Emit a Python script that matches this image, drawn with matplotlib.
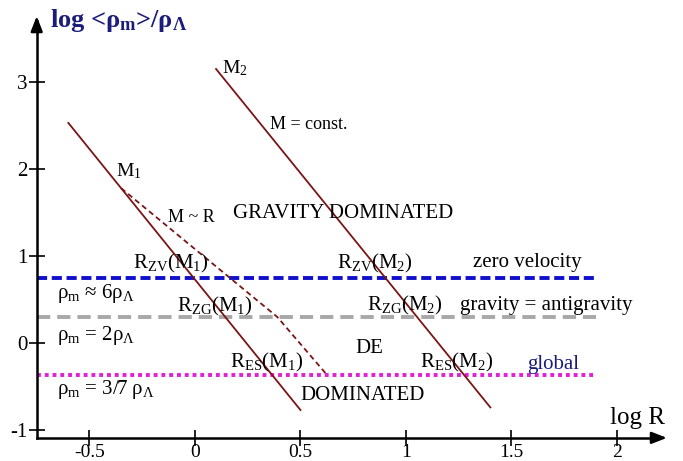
import matplotlib
matplotlib.use("Agg")
import matplotlib.pyplot as plt

plt.rcParams["font.family"] = ["Liberation Serif", "DejaVu Serif"]
plt.rcParams["mathtext.fontset"] = "custom"
plt.rcParams["mathtext.rm"] = "Liberation Serif"
plt.rcParams["mathtext.it"] = "Liberation Serif:italic"
plt.rcParams["mathtext.bf"] = "Liberation Serif:bold"

# mass lines (log R, log <rho_m>/rho_L)
m1_x = [-0.60, 0.50]
m1_y = [2.53, -0.77]
m2_x = [0.10, 1.40]
m2_y = [3.15, -0.74]
# M ~ R track
mr_x = [-0.35, 0.39, 0.62]
mr_y = [1.78, 0.30, -0.35]

# density levels
level_x = [-0.75, 1.90]
zero_velocity = 0.75
zero_gravity = 0.30
global_level = -0.37

x_ticks = [-0.5, 0, 0.5, 1, 1.5, 2]
x_tick_labels = ["-0.5", "0", "0.5", "1", "1.5", "2"]
y_ticks = [-1, 0, 1, 2, 3]
y_tick_labels = ["-1", "0", "1", "2", "3"]

DARK_RED = "#7a1515"
NAVY = "#1c1c7a"

fig = plt.figure(figsize=(6.83, 4.61), dpi=100)
ax = fig.add_axes([0, 0, 1, 1])
ax.set_xlim(-0.924, 2.313)
ax.set_ylim(-1.356, 3.943)

x0, y0 = -0.75, -1.09
ax.spines["left"].set_position(("data", x0))
ax.spines["bottom"].set_position(("data", y0))
ax.spines["left"].set_bounds(y0, 3.7)
ax.spines["bottom"].set_bounds(x0, 2.2)
ax.spines["left"].set_linewidth(1.8)
ax.spines["bottom"].set_linewidth(1.8)
ax.spines["top"].set_visible(False)
ax.spines["right"].set_visible(False)

ax.set_xticks(x_ticks)
ax.set_xticklabels(x_tick_labels)
ax.set_yticks(y_ticks)
ax.set_yticklabels(y_tick_labels)
ax.tick_params(direction="inout", length=11, width=1.2, labelsize=15, pad=1)
ax.tick_params(axis="x", labelsize=14, pad=-1)

# arrow heads
ax.annotate("", xy=(2.25, y0), xytext=(2.15, y0),
            arrowprops=dict(arrowstyle="-|>,head_length=0.9,head_width=0.35",
                            color="black", lw=1.8))
ax.annotate("", xy=(x0, 3.79), xytext=(x0, 3.6),
            arrowprops=dict(arrowstyle="-|>,head_length=0.9,head_width=0.35",
                            color="black", lw=1.8))

# level lines
ax.plot(level_x, [zero_velocity] * 2, color="#1010cc", lw=2.8,
        dashes=(2.6, 1.2))
ax.plot(level_x, [zero_gravity] * 2, color="#a8a8a8", lw=2.8,
        dashes=(3.4, 1.8))
ax.plot(level_x, [global_level] * 2, color="#e020d8", lw=2.8,
        dashes=(1, 1))

# mass lines
ax.plot(m1_x, m1_y, color=DARK_RED, lw=1.3)
ax.plot(m2_x, m2_y, color=DARK_RED, lw=1.3)
ax.plot(mr_x, mr_y, color=DARK_RED, lw=1.3, dashes=(3, 2))

labels = [
    ("M$_2$", 0.128, 3.16, 14),
    ("M = const.", 0.355, 2.51, 13),
    ("M$_1$", -0.374, 1.97, 14),
    ("M ~ R", -0.128, 1.44, 13),
    ("GRAVITY DOMINATED", 0.18, 1.49, 15),
    ("R$_{\\mathrm{ZV}}$(M$_1$)", -0.294, 0.92, 15),
    ("R$_{\\mathrm{ZV}}$(M$_2$)", 0.673, 0.92, 15),
    ("zero velocity", 1.318, 0.93, 15),
    ("ρ$_{\\mathrm{m}}$ ≈ 6ρ$_{\\Lambda}$", -0.654, 0.575, 15),
    ("R$_{\\mathrm{ZG}}$(M$_1$)", -0.085, 0.425, 15),
    ("R$_{\\mathrm{ZG}}$(M$_2$)", 0.815, 0.437, 15),
    ("gravity = antigravity", 1.256, 0.437, 15),
    ("ρ$_{\\mathrm{m}}$ = 2ρ$_{\\Lambda}$", -0.654, 0.09, 15),
    ("DE", 0.758, -0.06, 15),
    ("R$_{\\mathrm{ES}}$(M$_1$)", 0.166, -0.22, 15),
    ("R$_{\\mathrm{ES}}$(M$_2$)", 1.066, -0.22, 15),
    ("ρ$_{\\mathrm{m}}$ = 3/7 ρ$_{\\Lambda}$", -0.654, -0.53, 15),
    ("DOMINATED", 0.498, -0.60, 15),
]
for text, x, y, size in labels:
    ax.text(x, y, text, fontsize=size, ha="left", va="center")

ax.text(1.573, -0.25, "global", fontsize=15, color=NAVY, ha="left",
        va="center")
ax.text(1.967, -0.86, "log R", fontsize=18, ha="left", va="center")
ax.text(-0.687, 3.71, "log <ρ$_{\\mathbf{m}}$>/ρ$_{\\mathbf{Λ}}$",
        fontsize=19, fontweight="bold", color=NAVY, ha="left", va="center")

fig.savefig("out.png", dpi=100)
